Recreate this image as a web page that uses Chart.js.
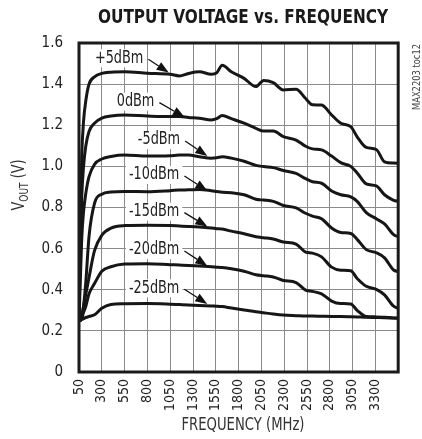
<!DOCTYPE html>
<html>
<head>
   <meta charset="utf-8">
   <script src="https://cdn.jsdelivr.net/npm/chart.js@4.4.1/dist/chart.umd.min.js"></script>
   <title>Output Voltage vs. Frequency</title>
   <style>
      body { margin: 0; background: #fff; }
   </style>
</head>
<body>
   <canvas id="chart" width="422" height="439"></canvas>
<script>
   // frequency points (MHz) shared by every curve
   const freqMHz = [50, 65, 80, 100, 125, 160, 220, 300, 400, 550, 800, 1050, 1150, 1250, 1370, 1500,
      1560, 1620, 1720, 1860, 1990, 2075, 2180, 2290, 2430, 2535, 2610, 2710, 2820, 2920, 3030,
      3100, 3200, 3310, 3400, 3500, 3550];

   // output voltage (V) for each input power
   const vP5 = [0.25, 0.75, 1.05, 1.22, 1.32, 1.40, 1.435, 1.452, 1.458, 1.46, 1.453, 1.448, 1.440, 1.452, 1.46, 1.448,
      1.455, 1.492, 1.46, 1.428, 1.388, 1.418, 1.407, 1.372, 1.375, 1.33, 1.30, 1.298, 1.25, 1.21, 1.193,
      1.144, 1.092, 1.082, 1.022, 1.016, 1.015];
   const v0 = [0.25, 0.6, 0.85, 1.0, 1.1, 1.17, 1.21, 1.235, 1.245, 1.25, 1.245, 1.242, 1.242, 1.238, 1.234, 1.226,
      1.232, 1.247, 1.232, 1.21, 1.185, 1.172, 1.172, 1.145, 1.128, 1.098, 1.085, 1.08, 1.05, 1.018, 1.0,
      0.968, 0.915, 0.905, 0.862, 0.835, 0.83];
   const vM5 = [0.25, 0.45, 0.65, 0.78, 0.87, 0.95, 1.01, 1.036, 1.048, 1.055, 1.05, 1.052, 1.055, 1.055, 1.047, 1.04,
      1.042, 1.047, 1.04, 1.025, 1.005, 0.999, 0.994, 0.98, 0.966, 0.94, 0.925, 0.918, 0.88, 0.862, 0.852,
      0.83, 0.775, 0.745, 0.72, 0.668, 0.658];
   const vM10 = [0.25, 0.25, 0.27, 0.32, 0.44, 0.66, 0.82, 0.865, 0.875, 0.878, 0.877, 0.882, 0.885, 0.886, 0.888, 0.882,
      0.878, 0.874, 0.872, 0.862, 0.84, 0.836, 0.83, 0.81, 0.798, 0.772, 0.758, 0.745, 0.70, 0.678, 0.674,
      0.645, 0.595, 0.58, 0.555, 0.496, 0.488];
   const vM15 = [0.25, 0.255, 0.27, 0.32, 0.38, 0.46, 0.59, 0.665, 0.70, 0.712, 0.714, 0.712, 0.71, 0.708, 0.705, 0.70,
      0.697, 0.695, 0.685, 0.672, 0.658, 0.653, 0.647, 0.632, 0.622, 0.583, 0.578, 0.56, 0.51, 0.495, 0.492,
      0.455, 0.417, 0.402, 0.375, 0.32, 0.31];
   const vM20 = [0.25, 0.25, 0.26, 0.29, 0.32, 0.38, 0.43, 0.49, 0.512, 0.525, 0.527, 0.522, 0.52, 0.518, 0.515, 0.512,
      0.51, 0.508, 0.502, 0.49, 0.473, 0.468, 0.462, 0.445, 0.435, 0.398, 0.392, 0.38, 0.345, 0.333, 0.331,
      0.30, 0.27, 0.268, 0.266, 0.263, 0.262];
   const vM25 = [0.25, 0.25, 0.255, 0.26, 0.265, 0.27, 0.278, 0.31, 0.328, 0.332, 0.333, 0.33, 0.328, 0.326, 0.324, 0.321,
      0.32, 0.318, 0.311, 0.302, 0.293, 0.288, 0.282, 0.277, 0.274, 0.272, 0.272, 0.271, 0.27, 0.27, 0.269,
      0.268, 0.266, 0.265, 0.264, 0.262, 0.261];

   const seriesNames = ['+5dBm', '0dBm', '-5dBm', '-10dBm', '-15dBm', '-20dBm', '-25dBm'];
   const seriesValues = [vP5, v0, vM5, vM10, vM15, vM20, vM25];

   const xTickValues = [50, 300, 550, 800, 1050, 1300, 1550, 1800, 2050, 2300, 2550, 2800, 3050, 3300, 3550];
   const yTickValues = [0, 0.2, 0.4, 0.6, 0.8, 1.0, 1.2, 1.4, 1.6];

   // where each label sits and where its arrow points (MHz, V)
   const labelAt = [[490, 1.526], [670, 1.315], [927, 1.128], [874, 0.958], [874, 0.78], [874, 0.593], [874, 0.407]];
   const arrowTo = [[1033, 1.456], [1209, 1.239], [1457, 1.051], [1457, 0.882], [1457, 0.707], [1457, 0.516], [1457, 0.331]];

   const NARROW = "'Liberation Sans Narrow', 'Arial Narrow', 'DejaVu Sans Condensed', sans-serif";
   const SQUEEZE = 0.84;

   // draw text squeezed/stretched to a given width
   function fitText(ctx, text, cx, cy, width, rot) {
      const w = ctx.measureText(text).width;
      ctx.save();
      ctx.translate(cx, cy);
      if (rot) ctx.rotate(rot);
      ctx.scale(width / w, 1);
      ctx.textAlign = 'center';
      ctx.textBaseline = 'middle';
      ctx.fillText(text, 0, 0);
      ctx.restore();
   }

   const decorations = {
      id: 'decorations',
      afterDraw(chart) {
         const ctx = chart.ctx;
         const a = chart.chartArea;
         const xs = chart.scales.x, ys = chart.scales.y;
         ctx.save();

         // heavy frame
         ctx.strokeStyle = '#1a1a1a';
         ctx.lineWidth = 3;
         ctx.strokeRect(a.left, a.top, a.right - a.left, a.bottom - a.top);

         // title
         ctx.fillStyle = '#1a1a1a';
         ctx.font = "bold 20px " + NARROW;
         fitText(ctx, 'OUTPUT VOLTAGE vs. FREQUENCY', 243, 18, 290);

         // x axis title
         ctx.fillStyle = '#333';
         ctx.font = "17px " + NARROW;
         fitText(ctx, 'FREQUENCY (MHz)', 243, 426, 123);

         // y axis title with subscript
         ctx.save();
         ctx.translate(24, 185);
         ctx.rotate(-Math.PI / 2);
         ctx.scale(SQUEEZE, 1);
         ctx.textBaseline = 'alphabetic';
         ctx.textAlign = 'left';
         ctx.font = "17px " + NARROW;
         const wV = ctx.measureText('V').width;
         ctx.font = "12px " + NARROW;
         const wOut = ctx.measureText('OUT').width;
         ctx.font = "17px " + NARROW;
         const wTail = ctx.measureText(' (V)').width;
         let px = -(wV + wOut + wTail) / 2;
         ctx.fillStyle = '#333';
         ctx.fillText('V', px, 0);
         px += wV;
         ctx.font = "12px " + NARROW;
         ctx.fillText('OUT', px, 4);
         px += wOut;
         ctx.font = "17px " + NARROW;
         ctx.fillText(' (V)', px, 0);
         ctx.restore();

         // part number note
         ctx.fillStyle = '#444';
         ctx.font = "10px " + NARROW;
         fitText(ctx, 'MAX2203 toc12', 417, 77, 66, -Math.PI / 2);

         // series labels with arrows
         ctx.font = "17px " + NARROW;
         seriesNames.forEach(function (name, i) {
            const tx = xs.getPixelForValue(labelAt[i][0]);
            const ty = ys.getPixelForValue(labelAt[i][1]);
            const w = ctx.measureText(name).width * SQUEEZE;
            ctx.fillStyle = '#fff';
            ctx.fillRect(tx - w / 2 - 3, ty - 9, w + 6, 18);
            ctx.fillStyle = '#222';
            fitText(ctx, name, tx, ty, w);

            const sx = tx + w / 2 + 5, sy = ty + 1;
            const ex = xs.getPixelForValue(arrowTo[i][0]);
            const ey = ys.getPixelForValue(arrowTo[i][1]);
            const ang = Math.atan2(ey - sy, ex - sx);
            const len = 12, half = 4.5;
            const bx = ex - len * Math.cos(ang), by = ey - len * Math.sin(ang);
            ctx.strokeStyle = '#111';
            ctx.lineWidth = 1.3;
            ctx.beginPath();
            ctx.moveTo(sx, sy);
            ctx.lineTo(bx, by);
            ctx.stroke();
            ctx.fillStyle = '#111';
            ctx.beginPath();
            ctx.moveTo(ex, ey);
            ctx.lineTo(bx + half * Math.sin(ang), by - half * Math.cos(ang));
            ctx.lineTo(bx - half * Math.sin(ang), by + half * Math.cos(ang));
            ctx.closePath();
            ctx.fill();
         });
         ctx.restore();
      }
   };

   new Chart(document.getElementById('chart'), {
      type: 'line',
      data: {
         datasets: seriesValues.map(function (vals, i) {
            return {
               label: seriesNames[i],
               data: freqMHz.map(function (f, k) { return { x: f, y: vals[k] }; }),
               borderColor: '#161616',
               borderWidth: 3,
               pointRadius: 0,
               fill: false,
               cubicInterpolationMode: 'monotone'
            };
         })
      },
      options: {
         responsive: false,
         animation: false,
         layout: { padding: { top: 43, right: 13, bottom: 0, left: 0 } },
         plugins: {
            legend: { display: false },
            title: { display: false },
            tooltip: { enabled: false }
         },
         scales: {
            x: {
               type: 'linear',
               min: 50,
               max: 3550,
               afterBuildTicks: function (scale) {
                  scale.ticks = xTickValues.map(function (v) { return { value: v }; });
               },
               afterFit: function (scale) { scale.height = 67; },
               grid: { color: '#8a8a8a', lineWidth: 1, drawTicks: false },
               border: { display: false },
               ticks: {
                  minRotation: 90,
                  maxRotation: 90,
                  padding: 7,
                  color: '#222',
                  font: { family: NARROW, size: 14 },
                  callback: function (v) { return v === 3550 ? '' : String(v); }
               }
            },
            y: {
               min: 0,
               max: 1.6,
               afterBuildTicks: function (scale) {
                  scale.ticks = yTickValues.map(function (v) { return { value: v }; });
               },
               afterFit: function (scale) { scale.width = 79; },
               grid: { color: '#8a8a8a', lineWidth: 1, drawTicks: false },
               border: { display: false },
               ticks: {
                  padding: 16,
                  color: '#222',
                  font: { family: NARROW, size: 15 },
                  callback: function (v) { return v === 0 ? '0' : v.toFixed(1); }
               }
            }
         }
      },
      plugins: [decorations]
   });
</script>
</body>
</html>
